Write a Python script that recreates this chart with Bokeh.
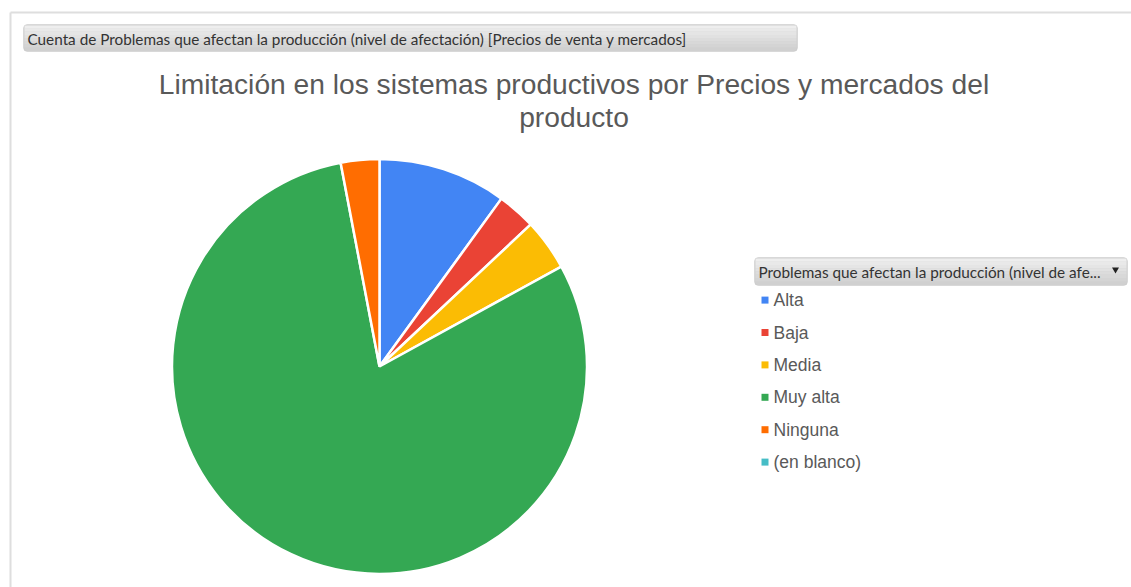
import math
from bokeh.plotting import figure
from bokeh.models import ColumnDataSource, Range1d, BoxAnnotation
from bokeh.core.properties import value
from bokeh.embed import file_html
from bokeh.resources import INLINE

# ---- data ----
categories = ["Alta", "Baja", "Media", "Muy alta", "Ninguna", "(en blanco)"]
counts = [10, 3, 4, 80, 3, 0]
colors = ["#4285F4", "#EA4335", "#FBBC04", "#34A853", "#FF6D01", "#46BDC6"]
header_text = "Cuenta de Problemas que afectan la producción (nivel de afectación) [Precios de venta y mercados]"
title_lines = ["Limitación en los sistemas productivos por Precios y mercados del", "producto"]
legend_title = "Problemas que afectan la producción (nivel de afe..."

W, H = 1131, 587


def X(px):
    return px


def Y(py):
    return H - py


p = figure(width=W, height=H, x_range=Range1d(0, W), y_range=Range1d(0, H),
           x_axis_type=None, y_axis_type=None, toolbar_location=None,
           output_backend="svg", min_border=0, outline_line_color=None,
           background_fill_color="white", border_fill_color="white")
p.grid.visible = False

# frame lines
p.segment(x0=[X(10), X(10)], y0=[Y(12), Y(12)], x1=[X(1131), X(10)], y1=[Y(12), Y(600)],
          line_color="#dedede", line_width=2)


def button(left, right, top, bottom):
    p.add_layout(BoxAnnotation(left=X(left), right=X(right), top=Y(top), bottom=Y(bottom),
                               fill_color="#d0d0d0", fill_alpha=1, line_color="#b5b5b5",
                               line_width=1, border_radius=4, level="underlay"))
    n = 8
    h = (bottom - top - 2) / n
    for i in range(n):
        g = int(238 - (238 - 208) * i / (n - 1))
        col = "#%02x%02x%02x" % (g, g, g)
        p.add_layout(BoxAnnotation(left=X(left + 1), right=X(right - 1),
                                   top=Y(top + 1 + i * h), bottom=Y(top + 1 + (i + 1) * h),
                                   fill_color=col, fill_alpha=1, line_color=None,
                                   level="underlay"))


# header button
button(23, 797, 24, 51)
p.text(x=[X(27)], y=[Y(38)], text=[header_text], text_font=value("Lato"),
       text_font_size="15.3px", text_color="#333333", text_baseline="middle", text_align="left")

# title
p.text(x=[X(573.5), X(573.5)], y=[Y(83), Y(116)], text=title_lines,
       text_font=value("Liberation Sans"), text_font_size="28.2px", text_color="#595959",
       text_baseline="middle", text_align="center")

# pie
total = float(sum(counts))
starts, ends, cats, cols = [], [], [], []
cum = 0.0
for c, v, col in zip(categories, counts, colors):
    if v <= 0:
        continue
    a0 = math.pi / 2 - 2 * math.pi * cum / total
    cum += v
    a1 = math.pi / 2 - 2 * math.pi * cum / total
    starts.append(a0)
    ends.append(a1)
    cats.append(c)
    cols.append(col)
src = ColumnDataSource(dict(start=starts, end=ends, cat=cats, color=cols))
p.wedge(x=X(379), y=Y(366), radius=207.5, start_angle="start", end_angle="end",
        direction="clock", fill_color="color", line_color="white", line_width=2.5, source=src)

# legend header
button(754, 1127, 257, 285)
p.text(x=[X(758)], y=[Y(271)], text=[legend_title], text_font=value("Lato"),
       text_font_size="15.3px", text_color="#333333", text_baseline="middle", text_align="left")
p.scatter(x=[X(1115)], y=[Y(269)], marker="inverted_triangle", size=7,
          fill_color="#222222", line_color=None)

# legend items
ly = [Y(299.6 + i * 32.4) for i in range(len(categories))]
p.scatter(x=[X(764.5)] * len(categories), y=ly, marker="square", size=7,
          fill_color=colors, line_color=None)
p.text(x=[X(773)] * len(categories), y=ly, text=categories,
       text_font=value("Liberation Sans"), text_font_size="17.5px", text_color="#595959",
       text_baseline="middle", text_align="left")

open("out.html", "w").write(file_html(p, INLINE))
